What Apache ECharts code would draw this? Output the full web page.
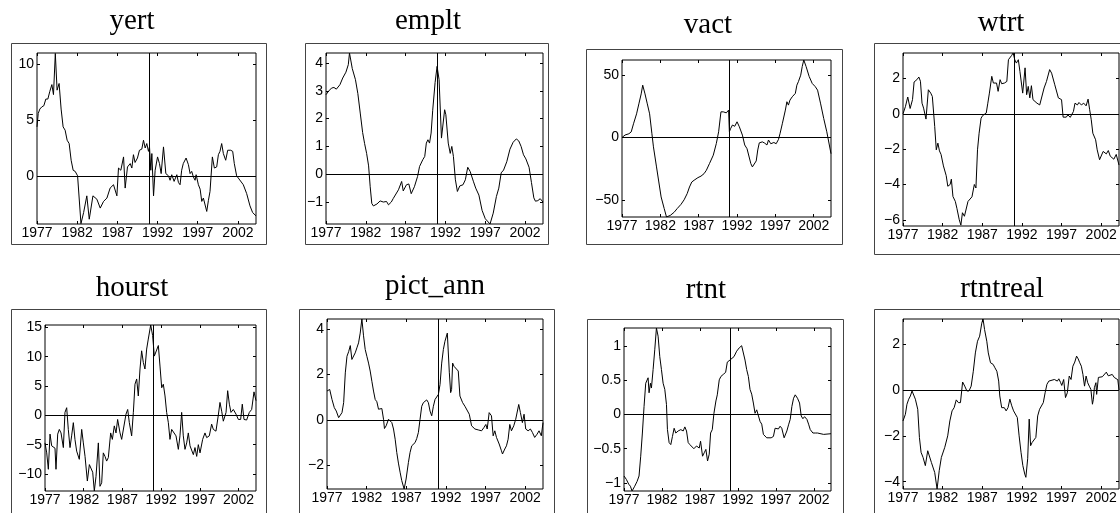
<!DOCTYPE html>
<html>
<head>
<meta charset="utf-8">
<title>labour market panels</title>
<script src="https://cdn.jsdelivr.net/npm/echarts@6/dist/echarts.min.js"></script>
<style>
html, body { margin: 0; padding: 0; background: #fff; }
#chart { width: 1120px; height: 513px; }
</style>
</head>
<body>
<div id="chart"></div>
<script>
// x axis (years, quarterly data)
var xMin = 1977, xMax = 2004.25;
var xTicks = [1977, 1982, 1987, 1992, 1997, 2002];
var breakYear = 1991;

// series: [year, value]
var yert = [[1977.0,4.4],[1977.15,5.6],[1977.35,6.0],[1977.6,6.2],[1977.85,6.3],[1978.1,6.9],[1978.35,6.9],[1978.6,7.6],[1978.85,8.2],[1979.05,7.3],[1979.28,11.0],[1979.5,7.7],[1979.75,8.3],[1980.0,6.0],[1980.25,4.4],[1980.5,4.1],[1980.75,3.2],[1981.0,2.9],[1981.25,1.4],[1981.5,0.5],[1981.75,0.4],[1982.05,0.0],[1982.47,-4.3],[1982.8,-3.3],[1983.2,-1.8],[1983.5,-3.9],[1983.96,-1.8],[1984.45,-2.1],[1984.87,-2.9],[1985.28,-2.3],[1985.7,-2.0],[1986.1,-1.1],[1986.52,-0.8],[1986.94,-1.8],[1987.14,0.7],[1987.43,0.5],[1987.77,1.7],[1987.97,-1.1],[1988.26,0.8],[1988.6,1.1],[1988.8,0.7],[1989.0,1.9],[1989.2,1.2],[1989.5,1.6],[1989.75,2.3],[1990.04,2.4],[1990.25,3.2],[1990.46,2.5],[1990.66,2.9],[1990.87,2.2],[1991.0,2.6],[1991.16,0.5],[1991.29,2.0],[1991.5,-1.8],[1991.7,0.5],[1992.0,1.7],[1992.24,1.1],[1992.45,0.2],[1992.74,2.6],[1993.03,0.2],[1993.36,0.0],[1993.56,-0.4],[1993.77,0.1],[1994.06,-0.5],[1994.4,0.1],[1994.6,-0.6],[1994.8,-0.8],[1995.0,0.5],[1995.2,1.1],[1995.55,1.6],[1995.84,1.0],[1996.05,0.2],[1996.25,0.4],[1996.46,-0.1],[1996.67,-0.4],[1996.8,0.1],[1997.08,-0.8],[1997.3,-1.2],[1997.5,-2.3],[1997.7,-2.0],[1997.9,-2.1],[1998.12,-3.2],[1998.33,-2.2],[1998.53,-1.4],[1998.82,1.7],[1999.07,0.7],[1999.36,0.8],[1999.57,1.9],[1999.77,2.2],[1999.98,2.9],[2000.19,2.0],[2000.48,1.4],[2000.73,2.3],[2001.1,2.3],[2001.35,2.2],[2001.55,1.1],[2001.84,0.0],[2002.05,-0.2],[2002.26,-0.2],[2002.67,-0.8],[2003.09,-1.6],[2003.5,-2.7],[2003.83,-3.3],[2004.25,-3.6]];

var emplt = [[1977.0,2.86],[1977.3,2.98],[1977.7,3.1],[1978.0,3.12],[1978.3,3.06],[1978.75,3.22],[1979.1,3.46],[1979.5,3.67],[1979.8,3.94],[1979.95,4.36],[1980.3,3.8],[1980.7,3.4],[1981.0,2.9],[1981.3,2.2],[1981.6,1.5],[1981.85,1.1],[1982.1,0.75],[1982.35,0.3],[1982.55,-0.45],[1982.75,-1.05],[1982.95,-1.14],[1983.4,-1.07],[1983.8,-0.96],[1984.2,-1.0],[1984.6,-0.98],[1984.85,-1.1],[1985.2,-1.0],[1985.45,-0.87],[1985.65,-0.92],[1986.1,-0.56],[1986.5,-0.26],[1986.7,-0.6],[1986.9,-0.62],[1987.1,-0.38],[1987.4,-0.35],[1987.7,-0.7],[1988.1,-0.45],[1988.5,-0.08],[1988.75,0.28],[1989.15,0.52],[1989.4,0.64],[1989.6,1.12],[1989.8,1.24],[1990.0,1.12],[1990.2,1.48],[1990.4,2.3],[1990.7,3.3],[1990.95,3.88],[1991.2,3.4],[1991.5,1.3],[1991.7,1.32],[1991.9,2.32],[1992.05,2.14],[1992.35,1.12],[1992.6,0.75],[1992.8,1.0],[1993.0,0.64],[1993.25,-0.2],[1993.5,-0.62],[1993.8,-0.42],[1994.2,-0.38],[1994.5,-0.2],[1994.8,0.25],[1995.1,0.1],[1995.5,-0.25],[1995.8,-0.5],[1996.2,-0.75],[1996.6,-1.3],[1997.0,-1.6],[1997.6,-1.79],[1998.0,-1.4],[1998.4,-0.8],[1998.7,-0.5],[1999.0,0.05],[1999.3,0.15],[1999.7,0.45],[2000.1,0.9],[2000.5,1.15],[2000.9,1.27],[2001.2,1.2],[2001.5,1.0],[2001.8,0.7],[2002.1,0.55],[2002.5,0.25],[2002.8,-0.3],[2003.1,-0.85],[2003.3,-0.97],[2003.6,-0.95],[2003.9,-0.88],[2004.25,-1.0]];

var vact = [[1977.0,0],[1977.4,2],[1977.9,3],[1978.2,4.5],[1978.5,11],[1978.9,19],[1979.2,27],[1979.5,35],[1979.7,42],[1980.0,35],[1980.3,27],[1980.6,19],[1980.9,3],[1981.1,-7.5],[1981.5,-23.6],[1981.8,-35.7],[1982.1,-47.7],[1982.5,-57],[1982.8,-63.8],[1983.3,-62.5],[1983.8,-60],[1984.2,-57],[1984.7,-53.6],[1985.1,-50],[1985.5,-45],[1985.8,-39.7],[1986.1,-35.7],[1986.4,-34.3],[1986.9,-32.2],[1987.3,-31],[1987.7,-29],[1988.0,-26.3],[1988.4,-21],[1988.9,-14.2],[1989.3,-4.8],[1989.6,4.6],[1989.9,20.6],[1990.2,20.6],[1990.6,19.8],[1990.9,22],[1991.0,4.6],[1991.15,7],[1991.4,10],[1991.7,9],[1992.0,12.6],[1992.3,8.6],[1992.7,1.9],[1993.0,-6],[1993.3,-9],[1993.8,-21],[1994.0,-23.6],[1994.2,-22],[1994.5,-18.8],[1994.7,-10],[1994.9,-4.3],[1995.3,-3.5],[1995.6,-4.5],[1995.9,-6],[1996.1,-2],[1996.4,-5],[1996.8,-4],[1997.1,-5],[1997.4,-1.6],[1997.6,3],[1997.9,11],[1998.3,22],[1998.5,28.7],[1998.7,26],[1998.9,30],[1999.2,32.7],[1999.6,35.4],[1999.8,42],[2000.0,44.8],[2000.3,50],[2000.5,57],[2000.7,62.2],[2001.0,57],[2001.4,49],[2001.8,43.4],[2002.2,40.8],[2002.5,38],[2002.9,27],[2003.3,15.3],[2003.7,4.6],[2004.25,-13]];

var wtrt = [[1977.0,0],[1977.3,0.4],[1977.6,0.95],[1977.9,0.3],[1978.2,0.8],[1978.4,1.8],[1978.75,1.93],[1979.0,2.08],[1979.2,1.84],[1979.4,0.6],[1979.6,0.32],[1979.9,-0.3],[1980.2,1.36],[1980.5,1.17],[1980.7,0.98],[1981.0,-0.72],[1981.2,-2.04],[1981.4,-1.66],[1981.6,-2.1],[1981.8,-2.3],[1982.1,-2.95],[1982.45,-3.5],[1982.65,-4.1],[1982.95,-4.0],[1983.1,-3.7],[1983.3,-4.68],[1983.6,-4.96],[1983.8,-5.35],[1984.1,-6.0],[1984.3,-6.3],[1984.5,-5.6],[1984.75,-5.8],[1985.0,-5.9],[1985.2,-4.96],[1985.4,-5.07],[1985.7,-4.7],[1986.0,-4.0],[1986.2,-4.2],[1986.4,-2.04],[1986.6,-1.1],[1986.85,-0.25],[1987.05,-0.1],[1987.3,-0.15],[1987.5,0.04],[1987.7,0.6],[1987.9,1.17],[1988.2,2.12],[1988.4,1.74],[1988.6,1.64],[1988.8,1.74],[1989.0,1.27],[1989.25,1.93],[1989.45,1.7],[1989.8,1.74],[1990.1,1.83],[1990.3,3.06],[1990.5,2.97],[1990.7,3.3],[1990.9,3.44],[1991.1,3.06],[1991.3,2.87],[1991.55,3.06],[1991.75,2.4],[1992.1,1.17],[1992.4,2.6],[1992.6,1.08],[1992.8,1.55],[1993.0,0.9],[1993.2,1.59],[1993.4,0.8],[1993.9,0.6],[1994.25,0.5],[1994.5,0.5],[1994.8,1.46],[1995.1,1.83],[1995.5,2.5],[1995.75,2.3],[1996.15,1.64],[1996.6,0.9],[1997.0,0.8],[1997.2,-0.19],[1997.6,-0.19],[1997.8,-0.06],[1998.1,-0.2],[1998.5,0.13],[1998.7,0.6],[1999.0,0.5],[1999.2,0.64],[1999.5,0.5],[1999.8,0.6],[2000.1,0.45],[2000.35,0.83],[2000.55,0.23],[2000.75,-0.34],[2000.95,-1.1],[2001.3,-1.47],[2001.5,-2.04],[2001.8,-2.6],[2002.0,-2.7],[2002.25,-2.13],[2002.45,-2.13],[2002.65,-2.27],[2002.9,-2.08],[2003.15,-2.4],[2003.4,-2.45],[2003.6,-2.57],[2003.9,-2.3],[2004.25,-2.9]];

var hourst = [[1977.0,-4.7],[1977.22,-6.4],[1977.43,-9.2],[1977.65,-3.2],[1977.86,-5.2],[1978.08,-5.5],[1978.29,-5.6],[1978.42,-9.2],[1978.64,-3.2],[1978.85,-2.4],[1979.07,-3.0],[1979.37,-5.5],[1979.58,0.5],[1979.8,1.3],[1980.01,-2.4],[1980.23,-5.5],[1980.44,-3.5],[1980.66,-1.25],[1980.87,-4.1],[1981.09,-6.1],[1981.43,-7.5],[1981.74,-2.4],[1981.95,-4.7],[1982.17,-7.0],[1982.47,-11.2],[1982.73,-8.4],[1982.94,-8.7],[1983.16,-9.7],[1983.37,-12.9],[1983.59,-10.4],[1983.89,-4.7],[1984.1,-12.1],[1984.32,-11.5],[1984.53,-6.4],[1984.75,-7.0],[1984.96,-7.8],[1985.18,-7.2],[1985.48,-3.0],[1985.7,-4.1],[1985.95,-1.8],[1986.17,-3.0],[1986.38,-0.7],[1986.69,-3.0],[1986.9,-4.1],[1987.12,-4.4],[1987.46,0.2],[1987.68,1.0],[1987.89,-1.25],[1988.19,-3.5],[1988.41,0.5],[1988.62,5.3],[1988.84,6.2],[1989.05,3.3],[1989.27,7.9],[1989.48,11.0],[1989.7,9.0],[1989.91,7.9],[1990.13,11.3],[1990.34,13.0],[1990.65,15.4],[1990.9,13.6],[1991.12,10.1],[1991.33,9.9],[1991.64,11.9],[1991.85,8.4],[1992.07,4.7],[1992.28,5.3],[1992.5,3.3],[1992.71,0.5],[1992.93,-1.25],[1993.14,-4.1],[1993.36,-2.4],[1993.57,-2.4],[1993.92,-3.5],[1994.22,-5.8],[1994.43,-3.5],[1994.65,0.5],[1994.86,-3.5],[1995.08,-5.8],[1995.3,-4.7],[1995.51,-3.0],[1995.73,-5.2],[1995.94,-5.0],[1996.16,-6.7],[1996.37,-5.5],[1996.59,-7.0],[1996.8,-5.0],[1997.02,-6.4],[1997.36,-4.1],[1997.66,-3.0],[1997.88,-3.8],[1998.22,-3.5],[1998.52,-1.5],[1998.74,-2.4],[1999.08,-2.7],[1999.38,0.0],[1999.6,2.2],[1999.82,0.7],[2000.03,-1.0],[2000.38,0.5],[2000.59,4.2],[2000.81,1.9],[2001.02,0.5],[2001.32,1.0],[2001.67,0.2],[2001.97,-0.7],[2002.27,-0.7],[2002.48,1.9],[2002.7,-0.7],[2003.04,-0.8],[2003.39,0.5],[2003.69,1.0],[2003.99,4.0],[2004.25,2.5]];

var pictAnn = [[1977.0,1.27],[1977.34,1.34],[1977.63,0.9],[1977.92,0.54],[1978.17,0.39],[1978.47,0.1],[1978.68,0.03],[1978.89,0.32],[1979.1,0.76],[1979.31,2.07],[1979.52,2.8],[1979.73,3.0],[1979.94,3.27],[1980.14,2.66],[1980.35,2.63],[1980.56,2.95],[1980.77,3.17],[1980.98,3.39],[1981.19,3.82],[1981.4,4.44],[1981.61,3.7],[1981.82,3.1],[1982.03,2.8],[1982.24,2.5],[1982.45,2.15],[1982.66,1.7],[1982.87,1.27],[1983.08,0.9],[1983.29,0.8],[1983.5,0.47],[1983.71,0.54],[1983.92,0.5],[1984.13,0.03],[1984.25,-0.38],[1984.46,-0.26],[1984.76,0.03],[1984.97,0.06],[1985.18,-0.12],[1985.39,-0.4],[1985.6,-0.85],[1985.8,-1.43],[1986.01,-1.9],[1986.22,-2.3],[1986.43,-2.67],[1986.73,-3.04],[1986.98,-2.6],[1987.27,-1.87],[1987.48,-1.43],[1987.69,-1.14],[1987.9,-1.1],[1988.11,-1.0],[1988.32,-0.82],[1988.53,-0.55],[1988.74,0.03],[1988.95,0.6],[1989.16,0.76],[1989.37,0.7],[1989.58,0.88],[1989.79,0.76],[1990.0,0.39],[1990.21,0.18],[1990.42,0.6],[1990.63,0.9],[1990.84,0.83],[1991.05,1.12],[1991.26,1.56],[1991.47,2.5],[1991.68,3.1],[1991.88,3.46],[1992.18,3.82],[1992.43,2.1],[1992.6,1.2],[1992.72,1.34],[1992.85,2.5],[1993.02,2.36],[1993.27,2.44],[1993.56,2.15],[1993.77,1.05],[1994.11,0.76],[1994.4,0.6],[1994.61,0.54],[1994.95,0.25],[1995.24,-0.26],[1995.66,-0.4],[1996.08,-0.44],[1996.5,-0.48],[1996.79,-0.34],[1997.04,-0.2],[1997.21,-0.4],[1997.46,0.32],[1997.75,0.18],[1997.96,-0.7],[1998.17,-0.48],[1998.38,-0.77],[1998.72,-1.06],[1999.01,-1.36],[1999.14,-1.5],[1999.43,-1.28],[1999.64,-1.14],[1999.85,-0.85],[2000.06,-0.2],[2000.27,-0.48],[2000.56,-0.26],[2000.81,0.03],[2000.98,0.03],[2001.19,0.68],[2001.4,0.32],[2001.65,-0.12],[2001.86,0.25],[2002.07,-0.4],[2002.37,-0.48],[2002.66,-0.4],[2002.91,-0.55],[2003.2,-0.77],[2003.5,-0.63],[2003.75,-0.48],[2004.04,-0.7],[2004.25,-0.12]];

var rtnt = [[1977.0,-0.9],[1977.31,-0.95],[1977.62,-1.02],[1977.84,-1.05],[1978.06,-1.12],[1978.41,-1.05],[1978.72,-0.98],[1978.98,-0.9],[1979.2,-0.61],[1979.42,-0.27],[1979.64,0.12],[1979.86,0.46],[1980.04,0.44],[1980.17,0.54],[1980.3,0.32],[1980.48,0.46],[1980.61,0.39],[1980.83,0.66],[1981.05,0.95],[1981.27,1.27],[1981.49,1.15],[1981.71,0.85],[1981.93,0.66],[1982.15,0.46],[1982.37,0.37],[1982.59,0.15],[1982.72,-0.22],[1982.94,-0.41],[1983.16,-0.44],[1983.38,-0.32],[1983.6,-0.2],[1983.82,-0.27],[1984.13,-0.24],[1984.48,-0.22],[1984.79,-0.24],[1985.01,-0.18],[1985.23,-0.24],[1985.45,-0.41],[1985.67,-0.44],[1985.89,-0.44],[1986.2,-0.5],[1986.55,-0.46],[1986.9,-0.49],[1987.08,-0.39],[1987.34,-0.61],[1987.56,-0.56],[1987.78,-0.51],[1988.0,-0.68],[1988.22,-0.58],[1988.4,-0.27],[1988.62,-0.22],[1988.84,0.02],[1989.1,0.2],[1989.28,0.29],[1989.54,0.51],[1989.76,0.56],[1990.07,0.59],[1990.38,0.62],[1990.6,0.77],[1990.95,0.8],[1991.17,0.81],[1991.48,0.85],[1991.83,0.93],[1992.18,0.98],[1992.49,1.01],[1992.63,1.0],[1992.93,0.8],[1993.15,0.66],[1993.37,0.56],[1993.59,0.37],[1993.81,0.3],[1994.03,0.17],[1994.25,0.02],[1994.47,0.07],[1994.69,0.05],[1994.91,-0.1],[1995.13,-0.14],[1995.35,-0.29],[1995.57,-0.31],[1995.79,-0.34],[1996.01,-0.35],[1996.37,-0.34],[1996.67,-0.32],[1996.89,-0.2],[1997.11,-0.22],[1997.33,-0.21],[1997.55,-0.17],[1997.77,-0.2],[1997.91,-0.22],[1998.08,-0.34],[1998.26,-0.35],[1998.44,-0.24],[1998.66,-0.15],[1998.88,-0.07],[1999.1,0.12],[1999.32,0.24],[1999.54,0.29],[1999.84,0.24],[2000.11,0.17],[2000.33,-0.02],[2000.55,-0.06],[2000.77,-0.03],[2001.08,-0.07],[2001.3,-0.14],[2001.52,-0.22],[2001.87,-0.27],[2002.18,-0.27],[2002.48,-0.27],[2003.28,-0.29],[2004.25,-0.28]];

var rtntreal = [[1977.0,-1.35],[1977.3,-1.06],[1977.5,-0.62],[1977.72,-0.4],[1977.93,-0.26],[1978.14,-0.04],[1978.35,-0.09],[1978.56,-0.4],[1978.86,-0.84],[1979.07,-2.07],[1979.28,-2.72],[1979.53,-2.94],[1979.82,-3.3],[1980.12,-2.65],[1980.37,-2.58],[1980.58,-3.16],[1980.79,-3.23],[1981.0,-3.6],[1981.3,-4.32],[1981.57,-3.52],[1981.84,-2.94],[1982.27,-2.5],[1982.64,-2.0],[1982.91,-1.35],[1983.19,-0.91],[1983.45,-0.77],[1983.72,-0.43],[1983.99,-0.55],[1984.25,-0.55],[1984.52,0.35],[1984.79,0.17],[1985.06,-0.04],[1985.33,-0.04],[1985.6,0.17],[1985.87,0.82],[1986.13,1.62],[1986.4,2.13],[1986.67,2.35],[1986.94,2.92],[1987.1,3.1],[1987.29,2.64],[1987.57,2.13],[1987.76,1.62],[1988.04,1.19],[1988.37,1.12],[1988.6,0.97],[1988.84,0.82],[1989.07,0.39],[1989.21,-0.26],[1989.45,-0.77],[1989.78,-0.77],[1990.01,-0.91],[1990.25,-0.77],[1990.48,-0.4],[1990.72,-0.69],[1990.95,-0.91],[1991.19,-0.84],[1991.42,-1.2],[1991.65,-2.0],[1991.89,-2.72],[1992.12,-3.3],[1992.36,-3.67],[1992.5,-3.81],[1992.73,-3.0],[1992.92,-1.27],[1993.1,-2.43],[1993.29,-2.29],[1993.53,-2.36],[1993.76,-2.07],[1993.99,-1.13],[1994.23,-0.84],[1994.46,-0.77],[1994.7,-0.55],[1994.93,-0.12],[1995.16,0.25],[1995.4,0.39],[1995.63,0.43],[1996.1,0.46],[1996.47,0.39],[1996.66,0.49],[1996.89,0.32],[1997.03,0.2],[1997.27,0.46],[1997.5,-0.33],[1997.73,-0.12],[1997.97,0.61],[1998.2,0.46],[1998.43,1.04],[1998.67,1.22],[1998.9,1.48],[1999.1,1.36],[1999.3,1.19],[1999.5,1.04],[1999.7,0.68],[1999.9,0.17],[2000.1,0.61],[2000.3,0.32],[2000.5,0.17],[2000.7,0.03],[2000.9,-0.62],[2001.02,-0.4],[2001.14,0.1],[2001.27,0.03],[2001.34,0.32],[2001.43,-0.19],[2001.65,0.55],[2001.9,0.5],[2002.15,0.58],[2002.4,0.5],[2002.65,0.78],[2002.9,0.62],[2003.15,0.6],[2003.4,0.68],[2003.65,0.55],[2003.9,0.62],[2004.1,0.45],[2004.25,0.0]];

var names = ['yert', 'emplt', 'vact', 'wtrt', 'hourst', 'pict_ann', 'rtnt', 'rtntreal'];
var allData = [yert, emplt, vact, wtrt, hourst, pictAnn, rtnt, rtntreal];

// y limits and ticks per panel
var yLimits = [[-4.33, 11.04], [-1.79, 4.36], [-63.8, 62.2], [-6.35, 3.44], [-12.9, 15.4], [-3.04, 4.44], [-1.12, 1.27], [-4.32, 3.1]];
var yTicks = [[0, 5, 10], [-1, 0, 1, 2, 3, 4], [-50, 0, 50], [-6, -4, -2, 0, 2], [-10, -5, 0, 5, 10, 15], [-2, 0, 2, 4], [-1, -0.5, 0, 0.5, 1], [-4, -2, 0, 2]];
var hasBreakLine = [true, true, true, true, true, true, true, false];

// layout (pixels): inner plot [left, top, width, height], outer frame, title centre
var plots = [[37, 53, 219, 171], [326, 53, 217, 171], [622, 60, 209, 157], [903, 53, 216, 173],
             [45, 325, 211, 166], [327, 319, 216, 170], [624, 328, 207, 163], [903, 319, 216, 170]];
var frames = [[11, 43, 255, 201], [305, 43, 243, 201], [586, 49, 256, 195], [874, 43, 260, 211],
              [11, 309, 255, 220], [299, 309, 255, 220], [587, 319, 256, 210], [874, 309, 260, 220]];
var titles = [[132, 21], [428, 21], [708, 25], [1001, 23], [132, 288], [435, 286], [706, 290], [1002, 289]];

function fmt(v) {
	return v < 0 ? '\u2212' + Math.abs(v) : String(v);
}

var grid = [], xAxis = [], yAxis = [], series = [], graphic = [];
var tickStyle = { color: '#000', width: 1 };
var labelStyle = { color: '#000', fontFamily: 'Liberation Sans', fontSize: 14 };

for (var i = 0; i < 8; i++) {
	var p = plots[i];
	grid.push({ left: p[0], top: p[1], width: p[2], height: p[3], show: true, borderColor: '#000', borderWidth: 1, backgroundColor: 'transparent' });

	// bottom + mirrored top
	['bottom', 'top'].forEach(function (pos) {
		xAxis.push({
			type: 'value', gridIndex: i, position: pos, min: xMin, max: xMax,
			axisLine: { show: false, onZero: false },
			axisTick: { show: true, inside: true, length: 3, customValues: xTicks, lineStyle: tickStyle },
			axisLabel: pos === 'bottom'
				? Object.assign({ show: true, margin: 2, customValues: xTicks, formatter: fmt }, labelStyle)
				: { show: false },
			splitLine: { show: false }
		});
	});
	// left + mirrored right
	['left', 'right'].forEach(function (pos) {
		yAxis.push({
			type: 'value', gridIndex: i, position: pos, min: yLimits[i][0], max: yLimits[i][1],
			axisLine: { show: false, onZero: false },
			axisTick: { show: true, inside: true, length: 3, customValues: yTicks[i], lineStyle: tickStyle },
			axisLabel: pos === 'left'
				? Object.assign({ show: true, margin: 3, customValues: yTicks[i], formatter: fmt }, labelStyle)
				: { show: false },
			splitLine: { show: false }
		});
	});

	var marks = [{ yAxis: 0 }];
	if (hasBreakLine[i]) marks.push({ xAxis: breakYear });

	series.push({
		name: names[i], type: 'line', xAxisIndex: 2 * i, yAxisIndex: 2 * i,
		data: allData[i], showSymbol: false, symbol: 'none',
		lineStyle: { color: '#000', width: 1 },
		markLine: { silent: true, symbol: 'none', animation: false, label: { show: false },
			lineStyle: { color: '#000', width: 1, type: 'solid' }, data: marks }
	});

	var f = frames[i];
	graphic.push({ type: 'rect', silent: true,
		shape: { x: f[0] + 0.5, y: f[1] + 0.5, width: f[2], height: f[3] },
		style: { fill: 'none', stroke: '#444', lineWidth: 1 } });
	graphic.push({ type: 'text', silent: true, x: titles[i][0], y: titles[i][1],
		style: { text: names[i], fill: '#000', font: '29px "Liberation Serif"', align: 'center', verticalAlign: 'middle' } });
}

var myChart = echarts.init(document.getElementById('chart'), null, { renderer: 'canvas' });
myChart.setOption({
	animation: false,
	backgroundColor: '#fff',
	grid: grid,
	xAxis: xAxis,
	yAxis: yAxis,
	series: series,
	graphic: graphic
});
</script>
</body>
</html>
